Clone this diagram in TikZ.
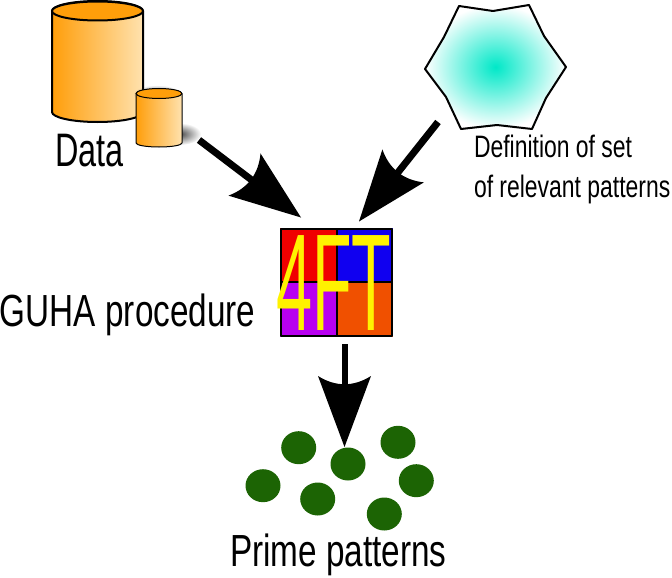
\documentclass[tikz,border=0pt]{standalone}
\usepackage{fontspec}
\usepackage{graphicx}
\usetikzlibrary{shapes.geometric,fadings}
\setmainfont{Liberation Sans}
\definecolor{cylA}{RGB}{255,158,10}
\definecolor{cylB}{RGB}{255,226,175}
\definecolor{hexC}{RGB}{0,232,200}
\definecolor{leaf}{RGB}{28,100,4}
\definecolor{qRed}{RGB}{240,0,0}
\definecolor{qBlue}{RGB}{16,0,240}
\definecolor{qPurple}{RGB}{184,0,240}
\definecolor{qOrange}{RGB}{240,80,0}
\newcommand{\lbl}[3]{{\fontsize{#2}{#2}\selectfont\scalebox{#1}[1]{#3}}}
\tikzfading[name=softfade,inner color=transparent!0,outer color=transparent!100]
\pgfdeclarearrow{
  name=BigHead,
  setup code={\pgfarrowssettipend{0pt}\pgfarrowssetlineend{-60pt}\pgfarrowssetvisualbackend{-60pt}\pgfarrowssetbackend{-71pt}},
  drawing code={
    \pgfpathmoveto{\pgfpointorigin}
    \pgfpathlineto{\pgfpoint{-71pt}{26.5pt}}
    \pgfpathcurveto{\pgfpoint{-60pt}{9pt}}{\pgfpoint{-60pt}{-9pt}}{\pgfpoint{-71pt}{-26.5pt}}
    \pgfpathclose
    \pgfusepathqfill
  }
}
\tikzset{
  lab/.style={anchor=base west,inner sep=0pt,outer sep=0pt,text=black},
  link/.style={draw=black,line width=#1,-{BigHead}},
  link/.default=7pt,
  blob/.style={ellipse,fill=leaf,draw=none,inner sep=0pt,minimum width=35pt,minimum height=33pt},
  cylbig/.style={draw=black,line width=2pt,left color=cylA,right color=cylB},
  cylsmall/.style={draw=black,line width=1pt,left color=cylA,right color=cylB},
  grid4/.style={draw=black,line width=2.8pt},
  softshadow/.style={fill=black!70,path fading=softfade,draw=none}
}
\begin{document}
\begin{tikzpicture}[x=1pt,y=-1pt]
\useasboundingbox (0,0) rectangle (672,578);
% big cylinder
\draw[cylbig] (52,11) -- (52,112) arc[start angle=180,end angle=360,x radius=45.5,y radius=-10] -- (143,11) arc[start angle=0,end angle=180,x radius=45.5,y radius=-10] -- cycle;
\draw[line width=2pt,fill=cylA] (97.5,11) ellipse[x radius=45.5,y radius=9.5];
% shadows of the small cylinder
\fill[softshadow] (180,134) ellipse[x radius=21,y radius=11];
\fill[softshadow] (157,94) ellipse[x radius=24,y radius=9];
% small cylinder
\draw[cylsmall] (136,94) -- (136,143) arc[start angle=180,end angle=360,x radius=23,y radius=-4] -- (182,94) arc[start angle=0,end angle=180,x radius=23,y radius=-5] -- cycle;
\draw[line width=1pt,fill=cylA] (159,93.5) ellipse[x radius=23,y radius=5];
\node[lab] (data) at (55,166) {\lbl{0.69}{47}{Data}};
% hexagon
\draw[line width=2pt,inner color=hexC,outer color=white,line join=round]
  (459,6) -- (493,11) -- (529,5) -- (544,36) -- (566,67) -- (546,98) -- (532,129)
  -- (497,125) -- (461,129) -- (446,97) -- (425,69) -- (444,37) -- cycle;
\node[lab] (def1) at (474,157) {\lbl{0.74}{31}{Definition of set}};
\node[lab] (def2) at (474,197) {\lbl{0.74}{31}{of relevant patterns}};
% 4FT box
\fill[qRed] (280,228) rectangle (337,282);
\fill[qBlue] (337,228) rectangle (393,282);
\fill[qPurple] (280,282) rectangle (337,337);
\fill[qOrange] (337,282) rectangle (393,337);
\draw[grid4,line join=round] (281,229) rectangle (392,336);
\draw[grid4] (337,229) -- (337,336) (281,282) -- (392,282);
\node[lab] (ft) at (276,330) {\textcolor{yellow}{\lbl{0.47}{138}{4FT}}};
\node[lab] (guha) at (0,326) {\lbl{0.74}{45}{GUHA procedure}};
% prime patterns
\node[blob] (p1) at (298.7,447.7) {};
\node[blob] (p2) at (263,485.7) {};
\node[blob] (p3) at (317.7,499) {};
\node[blob] (p4) at (348,464) {};
\node[blob] (p5) at (398,442.3) {};
\node[blob] (p6) at (416.3,480.7) {};
\node[blob] (p7) at (384.3,514) {};
\node[lab] (prime) at (230,566) {\lbl{0.74}{45}{Prime patterns}};
% connectors
\coordinate (a1) at (199,140);
\coordinate (a2) at (301,217.5);
\coordinate (b1) at (438,122);
\coordinate (b2) at (359,221.5);
\coordinate (c1) at (344.5,344);
\coordinate (c2) at (344.5,447);
\draw[link] (a1) -- (a2);
\draw[link] (b1) -- (b2);
\draw[link=6pt] (c1) -- (c2);
\end{tikzpicture}
\end{document}
